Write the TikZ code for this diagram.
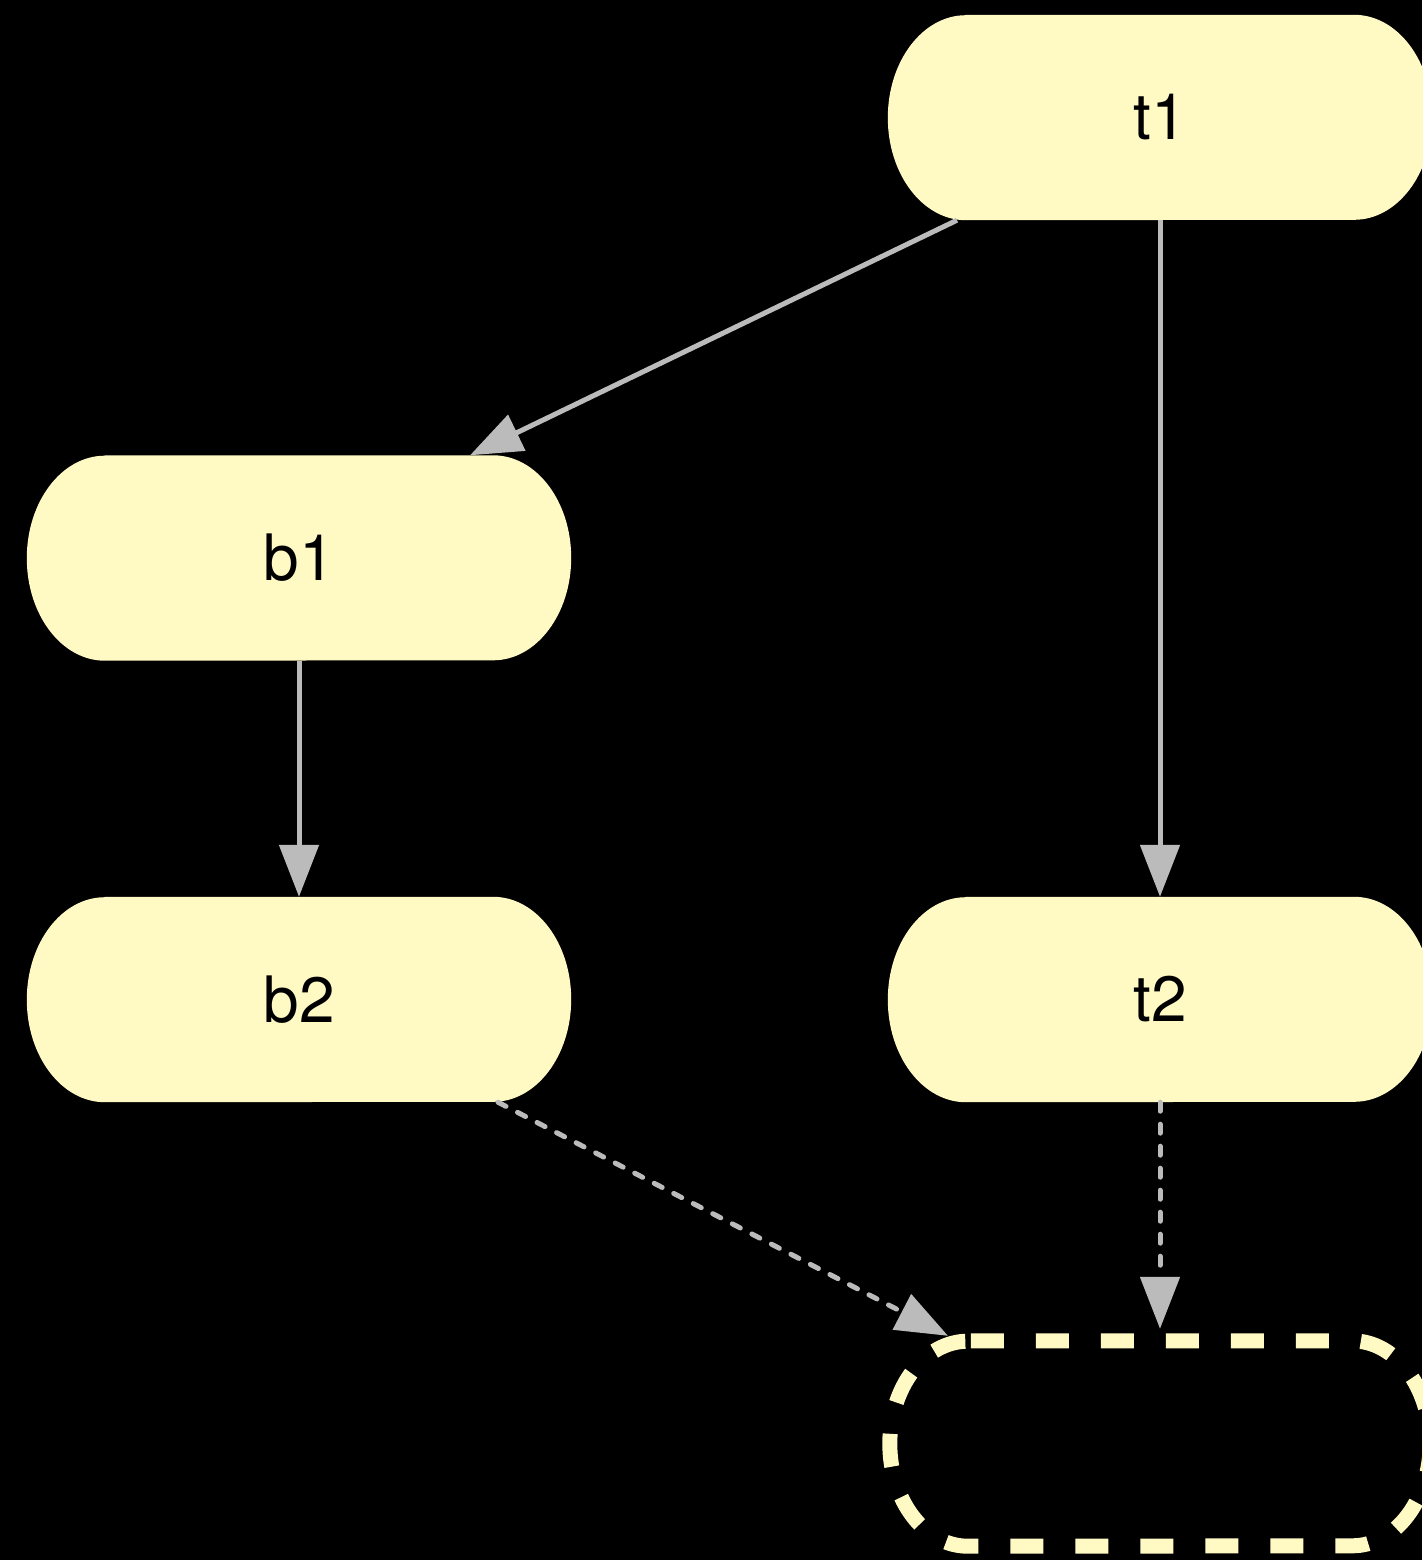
\documentclass[tikz,border=0pt]{standalone}
\usepackage{fontspec}
\setmainfont{TeX Gyre Heros}
\usetikzlibrary{arrows.meta,calc}
\definecolor{boxfill}{HTML}{FFFAC4}
\definecolor{edgegray}{HTML}{BBBBBB}
\pgfdeclarelayer{background}
\pgfsetlayers{background,main}
\newcommand{\pillpath}[1]{($(#1.north west)+(78pt,0)$) -- ($(#1.north east)+(-78pt,0)$)
  arc[start angle=90,end angle=-90,x radius=78pt,y radius=102.5pt]
  -- ($(#1.south west)+(78pt,0)$)
  arc[start angle=270,end angle=90,x radius=78pt,y radius=102.5pt] -- cycle}
\tikzset{
  pill/.style={minimum width=544pt, minimum height=205pt, inner sep=0pt,
    font=\fontsize{64}{70}\selectfont, text=black},
  ghost/.style={minimum width=540pt, minimum height=205pt, inner sep=0pt},
  pillfill/.style={fill=boxfill},
  ghostline/.style={draw=boxfill, line width=15pt, dash pattern=on 33pt off 32pt, dash phase=62pt},
  conn/.style={draw=edgegray, line width=5pt, -{Triangle[length=52pt,width=39pt]}, edgegray},
  dconn/.style={conn, dash pattern=on 9pt off 13pt, line cap=round}
}
\begin{document}
\begin{tikzpicture}[x=1pt,y=-1pt]
\useasboundingbox (0,0) rectangle (1422,1560);
\node[pill] (t1) at (1160,117.5) {t1};
\node[pill] (b1) at (299,558) {b1};
\node[pill] (b2) at (299,999.5) {b2};
\node[pill] (t2) at (1160,999.5) {t2};
\node[ghost] (d) at (1160,1443.5) {};
\begin{pgfonlayer}{background}
\fill[black] (0,0) rectangle (1422,1560);
\fill[pillfill] \pillpath{t1};
\fill[pillfill] \pillpath{b1};
\fill[pillfill] \pillpath{b2};
\fill[pillfill] \pillpath{t2};
\end{pgfonlayer}
\draw[ghostline] \pillpath{d};
\draw[conn] ($(t1.south)+(-203pt,0)$) -- ($(b1.north)+(171pt,0)$);
\draw[conn] (t1.south) -- (t2.north);
\draw[conn] (b1.south) -- (b2.north);
\draw[dconn] ($(b2.south)+(199pt,0)$) -- ($(d.north)+(-212pt,5pt)$);
\draw[dconn] (t2.south) -- ($(d.north)+(0,12pt)$);
\end{tikzpicture}
\end{document}
